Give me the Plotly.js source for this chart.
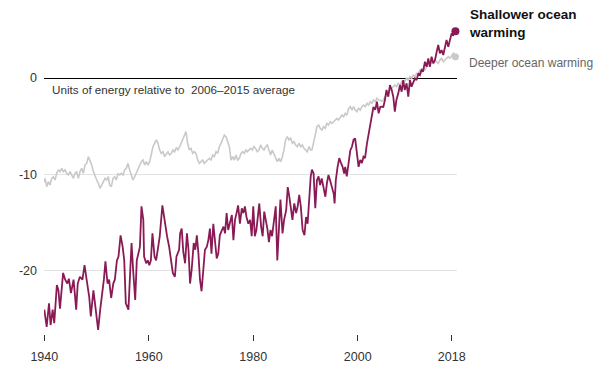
<!DOCTYPE html>
<html>
<head>
<meta charset="utf-8">
<script src="https://cdn.plot.ly/plotly-3.0.1.min.js"></script>
<style>
html,body{margin:0;padding:0;background:#fff;}
#chart{width:611px;height:382px;}
</style>
</head>
<body>
<div id="chart"></div>
<script>
// ---- Data ----
const shallowerYears = [1940.0,1940.45,1940.9,1941.2,1941.6,1941.9,1942.4,1942.7,1943.0,1943.3,1943.6,1944.0,1944.4,1944.7,1945.1,1945.6,1946.1,1946.4,1946.8,1947.3,1947.7,1948.1,1948.6,1948.9,1949.4,1949.7,1950.0,1950.3,1950.7,1951.0,1951.4,1951.7,1952.1,1952.4,1952.8,1953.2,1953.5,1953.9,1954.2,1954.6,1955.0,1955.3,1955.6,1956.1,1956.4,1956.7,1957.0,1957.4,1957.7,1958.0,1958.3,1958.6,1958.95,1959.1,1959.5,1959.8,1960.1,1960.4,1960.7,1961.1,1961.4,1961.8,1962.1,1962.6,1962.9,1963.2,1963.5,1963.9,1964.2,1964.6,1965.0,1965.3,1965.8,1966.0,1966.3,1966.6,1966.95,1967.3,1967.6,1967.9,1968.2,1968.6,1968.9,1969.2,1969.5,1969.8,1970.1,1970.4,1970.75,1971.1,1971.4,1971.7,1972.0,1972.35,1972.7,1973.0,1973.3,1973.6,1973.9,1974.3,1974.6,1974.9,1975.2,1975.5,1975.9,1976.2,1976.5,1976.8,1977.1,1977.45,1977.8,1978.1,1978.4,1978.7,1979.05,1979.4,1979.7,1980.0,1980.3,1980.6,1981.0,1981.15,1981.5,1981.8,1982.1,1982.4,1982.7,1983.0,1983.3,1983.6,1983.96,1984.3,1984.6,1984.9,1985.2,1985.6,1985.9,1986.3,1986.6,1986.9,1987.2,1987.5,1987.85,1988.2,1988.5,1988.8,1989.1,1989.45,1989.8,1990.1,1990.4,1990.7,1991.0,1991.23,1991.55,1991.87,1992.19,1992.5,1992.8,1993.1,1993.5,1993.8,1994.1,1994.4,1994.7,1995.06,1995.4,1995.57,1995.8,1996.14,1996.46,1996.78,1997.1,1997.4,1997.6,1997.9,1998.25,1998.57,1998.9,1999.2,1999.5,1999.84,2000.16,2000.48,2000.8,2001.1,2001.4,2001.76,2002.1,2002.4,2002.7,2003.0,2003.35,2003.67,2004.0,2004.3,2004.6,2004.9,2005.2,2005.5,2005.85,2006.16,2006.5,2006.8,2007.1,2007.4,2007.76,2008.08,2008.4,2008.7,2009.0,2009.35,2009.67,2010.0,2010.3,2010.6,2010.95,2011.27,2011.6,2011.9,2012.2,2012.5,2012.86,2013.2,2013.5,2013.8,2014.14,2014.46,2014.78,2015.1,2015.41,2015.73,2016.05,2016.37,2016.69,2017.0,2017.33,2017.65,2017.97,2018.29,2018.7];
const shallowerValues = [-24.0,-25.8,-23.35,-25.6,-24.0,-25.4,-21.45,-22.0,-23.9,-21.6,-20.2,-20.9,-21.3,-20.8,-22.3,-20.9,-24.0,-21.3,-20.6,-20.9,-19.4,-20.9,-22.7,-24.7,-22.0,-23.35,-25.1,-26.1,-24.0,-22.8,-20.9,-19.0,-21.3,-20.9,-22.8,-21.3,-20.9,-18.9,-18.5,-16.3,-17.5,-18.9,-23.35,-24.0,-20.9,-17.1,-19.9,-23.0,-18.9,-18.2,-17.5,-13.3,-14.7,-18.5,-19.2,-18.9,-19.4,-18.9,-16.1,-18.5,-18.9,-17.5,-16.4,-13.2,-14.4,-15.1,-16.4,-17.5,-18.9,-20.2,-20.6,-18.5,-17.8,-16.1,-15.6,-18.0,-19.2,-16.1,-17.8,-21.3,-19.9,-17.1,-17.8,-16.3,-18.2,-20.9,-22.1,-19.9,-17.8,-17.5,-16.8,-15.6,-18.2,-15.1,-17.1,-18.7,-18.2,-16.3,-15.9,-15.4,-16.1,-14.0,-15.75,-15.2,-14.2,-16.8,-14.7,-14.0,-13.2,-15.1,-13.5,-14.0,-13.3,-14.4,-15.1,-14.7,-16.4,-13.3,-16.4,-15.75,-14.0,-13.0,-15.4,-16.4,-13.85,-14.7,-15.6,-17.0,-15.75,-16.4,-14.7,-13.3,-18.9,-15.4,-12.6,-16.1,-14.7,-13.7,-11.3,-12.3,-13.7,-14.7,-13.0,-14.0,-13.3,-12.1,-13.3,-15.75,-16.3,-14.4,-15.1,-12.6,-10.2,-9.5,-9.9,-13.5,-10.6,-10.2,-11.1,-10.4,-11.3,-12.3,-10.9,-10.05,-10.6,-11.3,-12.0,-13.0,-10.6,-9.2,-8.3,-8.8,-9.2,-9.9,-9.2,-10.2,-8.5,-7.5,-7.1,-6.4,-6.25,-8.15,-9.2,-8.5,-8.8,-8.15,-8.3,-6.8,-5.7,-4.9,-4.0,-3.0,-3.3,-2.45,-3.66,-3.0,-2.97,-3.0,-2.28,-1.24,-1.93,-0.73,-1.24,-1.93,-3.49,-2.28,-1.59,-0.73,-1.42,-0.21,-1.24,-0.55,-1.93,-0.21,-0.9,-0.38,-0.03,-0.21,0.48,0.31,0.83,0.66,1.69,1.17,2.04,1.17,2.21,1.52,1.86,2.7,3.42,2.56,2.9,2.38,3.25,3.94,3.25,4.11,4.63,4.46,4.85];

const deeperYears = [1940.0,1940.14,1940.46,1940.77,1941.09,1941.41,1941.73,1942.05,1942.37,1942.69,1943.01,1943.33,1943.65,1943.96,1944.28,1944.6,1944.92,1945.24,1945.56,1945.88,1946.2,1946.52,1946.84,1947.16,1947.47,1947.79,1948.11,1948.43,1948.75,1949.07,1949.39,1949.71,1950.03,1950.35,1950.66,1950.98,1951.3,1951.62,1951.94,1952.26,1952.5,1952.83,1953.15,1953.47,1953.78,1954.1,1954.42,1954.74,1955.06,1955.38,1955.7,1956.02,1956.34,1956.66,1956.97,1957.29,1957.61,1957.93,1958.25,1958.57,1958.89,1959.21,1959.53,1959.85,1960.16,1960.48,1960.8,1961.12,1961.44,1961.76,1962.08,1962.4,1962.72,1963.03,1963.35,1963.67,1963.99,1964.31,1964.63,1964.95,1965.27,1965.59,1965.91,1966.17,1966.49,1966.8,1967.12,1967.44,1967.76,1968.08,1968.4,1968.72,1969.04,1969.36,1969.68,1970.0,1970.31,1970.63,1970.95,1971.27,1971.59,1971.91,1972.23,1972.55,1972.87,1973.18,1973.5,1973.82,1974.14,1974.46,1974.78,1975.1,1975.42,1975.74,1976.06,1976.37,1976.69,1977.01,1977.33,1977.65,1977.97,1978.29,1978.61,1978.86,1979.18,1979.5,1979.82,1980.13,1980.45,1980.77,1981.09,1981.41,1981.73,1982.05,1982.37,1982.69,1983.0,1983.32,1983.64,1983.96,1984.28,1984.6,1984.92,1985.24,1985.56,1985.88,1986.19,1986.51,1986.83,1987.15,1987.47,1987.79,1988.11,1988.43,1988.75,1989.07,1989.38,1989.7,1990.02,1990.34,1990.66,1990.98,1991.23,1991.55,1991.87,1992.19,1992.51,1992.82,1993.14,1993.46,1993.78,1994.1,1994.42,1994.74,1995.06,1995.38,1995.7,1996.02,1996.33,1996.65,1996.97,1997.29,1997.61,1997.93,1998.25,1998.57,1998.89,1999.2,1999.52,1999.84,2000.16,2000.48,2000.8,2001.12,2001.44,2001.76,2002.08,2002.4,2002.71,2003.03,2003.35,2003.67,2003.99,2004.31,2004.6,2004.89,2005.21,2005.53,2005.85,2006.16,2006.48,2006.8,2007.12,2007.44,2007.76,2008.08,2008.4,2008.72,2009.03,2009.35,2009.67,2009.99,2010.31,2010.63,2010.95,2011.27,2011.59,2011.91,2012.22,2012.54,2012.86,2013.18,2013.5,2013.82,2014.14,2014.46,2014.78,2015.1,2015.41,2015.73,2016.05,2016.37,2016.69,2017.01,2017.33,2017.65,2017.97,2018.29,2018.7];
const deeperValues = [-10.8,-10.4,-11.26,-10.74,-11.09,-10.4,-10.23,-10.57,-9.88,-9.53,-9.7,-9.36,-9.7,-9.53,-9.88,-10.05,-9.7,-10.05,-10.4,-9.88,-9.7,-10.4,-9.7,-9.36,-9.88,-9.02,-8.84,-8.15,-8.5,-9.02,-9.7,-10.23,-10.57,-10.92,-11.43,-11.09,-10.74,-10.4,-10.57,-10.23,-11.09,-11.26,-10.4,-10.23,-10.57,-9.88,-10.05,-9.88,-10.05,-9.53,-9.36,-8.84,-9.53,-10.05,-10.57,-10.23,-9.88,-9.53,-9.19,-8.67,-8.5,-9.02,-8.67,-9.02,-8.67,-7.81,-7.12,-6.77,-6.42,-6.77,-7.46,-7.81,-7.64,-8.15,-7.81,-7.64,-7.98,-7.81,-7.46,-7.64,-7.2,-7.46,-7.12,-6.77,-6.42,-6.08,-5.56,-6.77,-7.46,-7.29,-7.81,-7.64,-7.81,-8.5,-8.84,-8.67,-8.5,-8.84,-8.67,-8.5,-8.32,-8.5,-7.98,-8.15,-7.64,-7.81,-7.12,-6.77,-6.42,-5.91,-6.08,-6.6,-7.12,-8.5,-8.15,-8.5,-7.98,-8.5,-8.32,-7.81,-7.64,-7.81,-7.46,-7.64,-7.46,-7.29,-7.46,-7.12,-7.29,-7.64,-7.46,-6.94,-7.29,-7.46,-7.12,-6.94,-7.46,-7.98,-7.46,-7.81,-8.32,-8.67,-8.32,-8.67,-8.15,-7.46,-6.42,-6.08,-6.42,-6.25,-6.77,-6.6,-6.94,-7.12,-6.77,-7.12,-6.94,-7.29,-7.46,-7.64,-7.12,-7.46,-7.46,-6.77,-5.9,-5.04,-4.87,-5.21,-5.39,-5.04,-5.21,-4.7,-4.87,-4.53,-4.7,-4.53,-4.35,-4.18,-4.35,-4.01,-3.84,-4.01,-3.66,-3.84,-3.14,-2.97,-3.32,-2.97,-3.32,-3.49,-3.14,-3.32,-2.97,-2.8,-2.97,-2.63,-2.8,-2.45,-2.63,-2.28,-2.45,-2.11,-2.28,-2.3,-2.4,-2.28,-1.93,-1.76,-1.42,-1.24,-1.07,-0.9,-0.73,-0.9,-0.55,-0.73,-0.38,-0.55,-0.21,-0.03,-0.21,0.14,-0.03,0.31,0.14,0.48,0.48,0.83,0.66,1.0,0.83,1.17,1.52,1.35,1.69,1.52,1.86,1.69,1.52,1.86,2.04,1.69,1.86,2.04,2.21,2.04,2.38,2.56,2.2];

const xTickVals = [1940, 1960, 1980, 2000, 2018];
const xTickText = ['1940', '1960', '1980', '2000', '2018'];
const yTickVals = [0, -10, -20];
const yTickText = ['0', '-10', '-20'];

const seriesNames = ['Shallower ocean warming', 'Deeper ocean warming'];
const unitNote = 'Units of energy relative to \u00a02006\u20132015 average';

// ---- Chart ----
const FONT = 'Liberation Sans, Arial, sans-serif';
const SHALLOW = '#8a1a55';
const DEEP = '#cbc9c7';

const lastS = shallowerValues.length - 1;
const lastD = deeperValues.length - 1;

const traces = [
  {x: deeperYears, y: deeperValues, type: 'scatter', mode: 'lines',
   line: {color: DEEP, width: 1.6}, hoverinfo: 'skip', name: seriesNames[1]},
  {x: shallowerYears, y: shallowerValues, type: 'scatter', mode: 'lines',
   line: {color: SHALLOW, width: 1.8}, hoverinfo: 'skip', name: seriesNames[0]},
  {x: [deeperYears[lastD]], y: [deeperValues[lastD]], type: 'scatter', mode: 'markers',
   marker: {color: DEEP, size: 7}, cliponaxis: false, hoverinfo: 'skip'},
  {x: [shallowerYears[lastS]], y: [shallowerValues[lastS]], type: 'scatter', mode: 'markers',
   marker: {color: SHALLOW, size: 8}, cliponaxis: false, hoverinfo: 'skip'}
];

const layout = {
  width: 611, height: 382,
  margin: {l: 44, r: 154, t: 10, b: 48},
  paper_bgcolor: '#fff', plot_bgcolor: '#fff',
  showlegend: false,
  font: {family: FONT, color: '#333', size: 12},
  xaxis: {
    range: [1939.94, 2019.0], fixedrange: true,
    showgrid: false, zeroline: false, showline: false,
    tickmode: 'array', tickvals: xTickVals, ticktext: xTickText,
    ticks: 'outside', ticklen: 6, tickwidth: 1, tickcolor: '#333',
    ticklabelstandoff: 5,
    tickfont: {family: FONT, size: 12.5, color: '#333'}
  },
  yaxis: {
    range: [-26.53, 7.05], fixedrange: true,
    showgrid: true, gridcolor: '#e3e3e3', gridwidth: 1,
    zeroline: true, zerolinecolor: '#000', zerolinewidth: 1,
    showline: false, ticks: '',
    tickmode: 'array', tickvals: yTickVals, ticktext: yTickText,
    ticklabelstandoff: 6,
    tickfont: {family: FONT, size: 12.5, color: '#333'}
  },
  annotations: [
    {xref: 'paper', yref: 'y', x: 0.0145, y: -1.17, xanchor: 'left', yanchor: 'middle',
     text: unitNote, showarrow: false, font: {family: FONT, size: 11.7, color: '#333'}},
    {xref: 'paper', yref: 'y', x: 1.0242, y: 5.6, xanchor: 'left', yanchor: 'middle',
     text: '<b>Shallower ocean<br>warming</b>', showarrow: false, align: 'left',
     font: {family: FONT, size: 13.5, color: '#111'}},
    {xref: 'paper', yref: 'y', x: 1.0242, y: 1.52, xanchor: 'left', yanchor: 'middle',
     text: seriesNames[1], showarrow: false, align: 'left',
     font: {family: FONT, size: 12, color: '#666'}}
  ]
};

Plotly.newPlot('chart', traces, layout, {displayModeBar: false, staticPlot: true});
</script>
</body>
</html>
